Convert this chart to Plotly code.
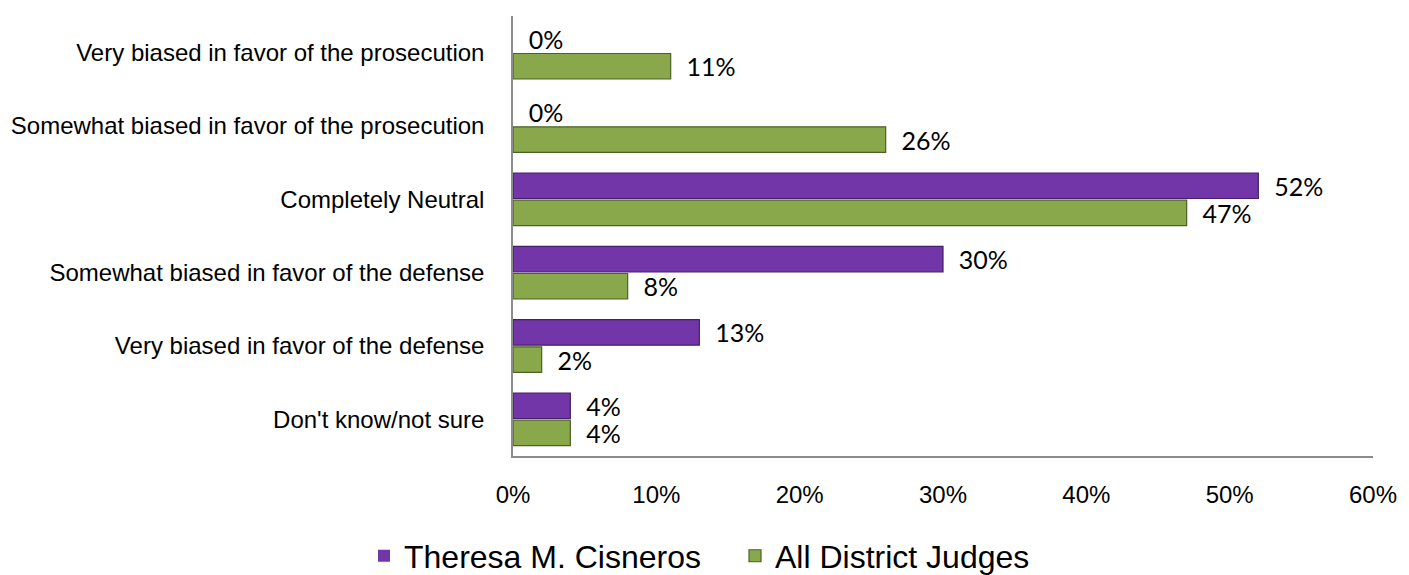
import plotly.graph_objects as go

categories = [
    "Very biased in favor of the prosecution",
    "Somewhat biased in favor of the prosecution",
    "Completely Neutral",
    "Somewhat biased in favor of the defense",
    "Very biased in favor of the defense",
    "Don't know/not sure",
]
series_names = ["Theresa M. Cisneros", "All District Judges"]
cisneros = [0.00, 0.00, 0.52, 0.30, 0.13, 0.04]
all_judges = [0.11, 0.26, 0.47, 0.08, 0.02, 0.04]
tick_vals = [0, 0.1, 0.2, 0.3, 0.4, 0.5, 0.6]

fill_colors = ["#7336A8", "#89A84B"]
line_colors = ["#45206A", "#4C6126"]

fig = go.Figure()
for name, vals, fc, lc in zip(series_names, [cisneros, all_judges], fill_colors, line_colors):
    fig.add_trace(go.Bar(
        y=categories, x=vals, name=name, orientation="h",
        marker=dict(color=fc, line=dict(color=lc, width=[0 if v == 0 else 1.2 for v in vals])),
        texttemplate="\u00a0\u00a0%{x:.0%}",
        textposition="outside",
        constraintext="none",
        cliponaxis=False,
        textfont=dict(family="Lato", size=25, color="#000000"),
    ))

fig.update_layout(
    width=1409, height=575,
    margin=dict(l=505, r=44, t=8, b=127),
    paper_bgcolor="white", plot_bgcolor="white",
    barmode="group", bargap=0.26, bargroupgap=0.06,
    showlegend=True,
    legend=dict(
        orientation="h", xref="container", yref="container",
        x=356 / 1409, xanchor="left", y=0.047, yanchor="middle",
        font=dict(family="Liberation Sans, Arial", size=32, color="#000000"),
        itemwidth=30, entrywidth=326, entrywidthmode="pixels",
    ),
)
fig.update_xaxes(
    range=[0, 0.6], tickvals=tick_vals, tickformat=".0%",
    showgrid=False, zeroline=False, automargin=False,
    showline=True, linecolor="#8C8C8C", linewidth=1.5,
    ticks="", ticklabelstandoff=16,
    tickfont=dict(family="Liberation Sans, Arial", size=24, color="#000000"),
)
fig.update_yaxes(
    autorange="reversed", showgrid=False, zeroline=False, automargin=False,
    showline=True, linecolor="#8C8C8C", linewidth=1.5,
    ticks="", ticklabelstandoff=22,
    tickfont=dict(family="Liberation Sans, Arial", size=24, color="#000000"),
)

fig.write_html("out.html")
